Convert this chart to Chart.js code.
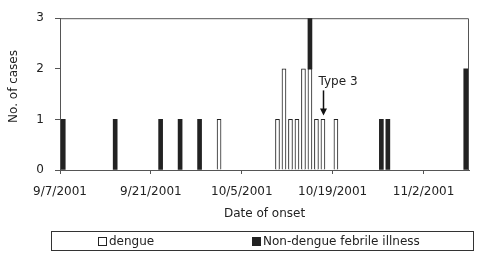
<!DOCTYPE html>
<html>
<head>
<meta charset="utf-8">
<script src="https://cdn.jsdelivr.net/npm/chart.js@4.4.1/dist/chart.umd.min.js"></script>
<style>
  html, body { margin: 0; padding: 0; background: #fff; }
  #wrap { width: 480px; height: 260px; }
</style>
</head>
<body>
<div id="wrap"><canvas id="miGrafico"></canvas></div>
<script>
// ------------------------------------------------------------------------------
// Casos por fecha de inicio (dengue / no dengue)
// ------------------------------------------------------------------------------
const startDate = '9/7/2001';
const endDate = '11/9/2001';
const tickLabels = ['9/7/2001', '9/21/2001', '10/5/2001', '10/19/2001', '11/2/2001'];
const seriesNames = ['dengue', 'Non-dengue febrile illness'];

const dengueDates = ['10/1/2001', '10/10/2001', '10/11/2001', '10/12/2001', '10/13/2001',
                     '10/14/2001', '10/15/2001', '10/16/2001', '10/17/2001', '10/19/2001'];
const dengueCases = [1, 1, 2, 1, 1, 2, 2, 1, 1, 1];

const otherDates = ['9/7/2001', '9/15/2001', '9/22/2001', '9/25/2001', '9/28/2001',
                    '10/15/2001', '10/26/2001', '10/27/2001', '11/8/2001'];
const otherCases = [1, 1, 1, 1, 1, 1, 1, 1, 2];

const noteText = 'Type 3';
const noteDate = '10/17/2001';
const noteValue = 1;

// dias desde la fecha inicial
function dayOf(s) {
    let [m, d, y] = s.split('/').map(Number);
    let [m0, d0, y0] = startDate.split('/').map(Number);
    return Math.round((Date.UTC(y, m - 1, d) - Date.UTC(y0, m0 - 1, d0)) / 86400000);
}

Chart.defaults.font.family = 'DejaVu Sans';
Chart.defaults.font.size = 12;
Chart.defaults.color = '#222';

const axisColor = '#555';

const extras = {
    id: 'extras',
    beforeDatasetsDraw(chart) {
        const {ctx, chartArea: a} = chart;
        ctx.save();
        ctx.strokeStyle = axisColor;
        ctx.lineWidth = 1;
        ctx.beginPath();
        ctx.moveTo(a.left, a.top + 0.5);
        ctx.lineTo(a.right - 0.5, a.top + 0.5);
        ctx.lineTo(a.right - 0.5, a.bottom);
        ctx.stroke();
        ctx.restore();
    },
    afterDraw(chart) {
        const {ctx, scales: {x, y}} = chart;
        ctx.save();
        // flecha "Type 3"
        let px = Math.round(x.getPixelForValue(dayOf(noteDate) + 0.5)) + 0.5;
        let tip = y.getPixelForValue(noteValue) - 4;
        ctx.strokeStyle = '#111';
        ctx.fillStyle = '#111';
        ctx.lineWidth = 1.5;
        ctx.beginPath();
        ctx.moveTo(px, tip - 25);
        ctx.lineTo(px, tip - 6);
        ctx.stroke();
        ctx.beginPath();
        ctx.moveTo(px - 3.5, tip - 7);
        ctx.lineTo(px + 3.5, tip - 7);
        ctx.lineTo(px, tip);
        ctx.closePath();
        ctx.fill();
        ctx.font = '12px "DejaVu Sans"';
        ctx.textAlign = 'left';
        ctx.textBaseline = 'middle';
        ctx.fillStyle = '#222';
        ctx.fillText(noteText, px - 5, tip - 34);

        // leyenda con marco
        ctx.lineWidth = 1;
        ctx.strokeStyle = '#333';
        ctx.strokeRect(51.5, 231.5, 422, 19);
        let slots = [98, 252];
        chart.data.datasets.forEach((ds, i) => {
            let lx = slots[i];
            ctx.fillStyle = ds.backgroundColor;
            ctx.fillRect(lx, 237, 9, 9);
            ctx.strokeStyle = '#222';
            ctx.strokeRect(lx + 0.5, 237.5, 8, 8);
            ctx.fillStyle = '#222';
            ctx.fillText(ds.label, lx + 11, 241.5);
        });
        ctx.restore();
    }
};

const chartData = {
    datasets: [{
            label: seriesNames[0],
            data: dengueDates.map((d, i) => ({x: dayOf(d) + 0.5, y: dengueCases[i]})),
            backgroundColor: '#ffffff',
            borderColor: '#222',
            borderWidth: 1,
            barThickness: 4,
        },
        {
            label: seriesNames[1],
            data: otherDates.map((d, i) => ({x: dayOf(d) + 0.5, y: otherCases[i]})),
            backgroundColor: '#222222',
            borderWidth: 0,
            barThickness: 4,
        }
    ],
};

const grafico = new Chart(document.getElementById('miGrafico'), {
    type: 'bar',
    data: chartData,
    plugins: [extras],
    options: {
        responsive: true,
        maintainAspectRatio: false,
        animation: false,
        layout: {padding: {top: 12, right: 11, bottom: 37, left: 0}},
        plugins: {legend: {display: false}, tooltip: {enabled: false}},
        scales: {
            x: {
                type: 'linear',
                min: 0,
                max: dayOf(endDate),
                offset: false,
                stacked: true,
                grid: {offset: false, drawOnChartArea: false, tickLength: 4, color: axisColor},
                border: {color: axisColor},
                afterBuildTicks: (s) => { s.ticks = tickLabels.map(l => ({value: dayOf(l)})); },
                ticks: {
                    autoSkip: false,
                    maxRotation: 0,
                    padding: 11,
                    callback: (v) => tickLabels.find(l => dayOf(l) === v) || ''
                },
                title: {display: true, text: 'Date of onset', padding: {top: 0, bottom: 2}},
                afterFit: (s) => { s.height = 53; }
            },
            y: {
                min: 0,
                max: 3,
                stacked: true,
                ticks: {stepSize: 1, padding: 11},
                grid: {drawOnChartArea: false, tickLength: 5, color: axisColor},
                border: {color: axisColor},
                title: {display: true, text: '\u00a0\u00a0\u00a0\u00a0No. of cases', padding: {top: 7, bottom: 0}},
                afterFit: (s) => { s.width = 60; }
            }
        }
    }
});
</script>
</body>
</html>
